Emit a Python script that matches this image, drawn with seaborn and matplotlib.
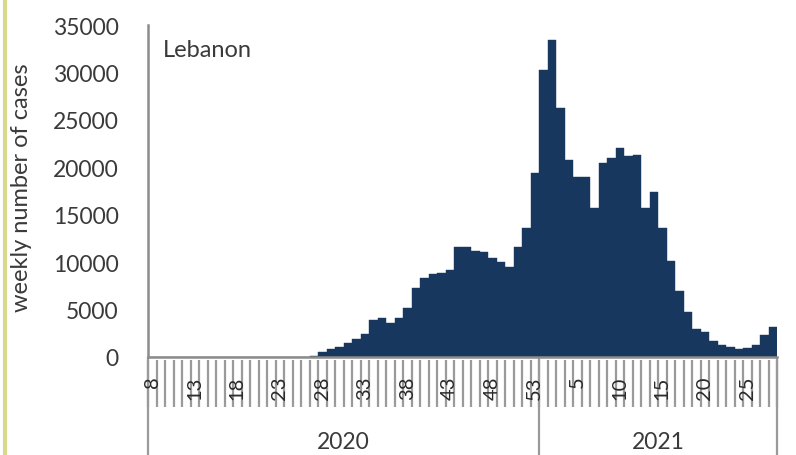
import seaborn as sns
import pandas as pd
import matplotlib.pyplot as plt
from matplotlib.lines import Line2D

# weekly cases, Lebanon
weeks_2020 = list(range(8, 54))
cases_2020 = [0, 5, 20, 30, 30, 25, 20, 15, 10, 5, 10, 15, 20, 25, 25, 30, 40, 50, 50, 60,
              490, 840, 1100, 1500, 1900, 2450, 3950, 4080, 3600, 4100, 5150, 7300, 8350, 8700,
              8900, 9200, 11600, 11600, 11200, 11100, 10400, 10050, 9500, 11600, 13650, 19350]
weeks_2021 = list(range(1, 29))
cases_2021 = [30260, 33420, 26250, 20770, 18940, 18940, 15680, 20420, 20940, 22000, 21220, 21300,
              15700, 17360, 13600, 10150, 6950, 4710, 2900, 2600, 1720, 1230, 1020, 840, 950, 1250,
              2280, 3150]
years = ['2020', '2021']
country = 'Lebanon'

df = pd.DataFrame({
    'year': ['2020'] * len(weeks_2020) + ['2021'] * len(weeks_2021),
    'week': weeks_2020 + weeks_2021,
    'cases': cases_2020 + cases_2021,
})
df['key'] = df['year'] + '-' + df['week'].astype(str)

navy = '#17375e'
grey_txt = '#3a3a3a'
grey_line = '#8c8c8c'

sns.set_style('white')
plt.rcParams['font.family'] = ['Lato', 'DejaVu Sans']

W, H = 796, 456
x0, x1, y0, y1 = 148, 777, 26, 358
fig = plt.figure(figsize=(W / 100, H / 100), dpi=100)
ax = fig.add_axes([x0 / W, 1 - y1 / H, (x1 - x0) / W, (y1 - y0) / H])

sns.barplot(data=df, x='key', y='cases', color=navy, saturation=1, width=1,
            errorbar=None, edgecolor=navy, linewidth=0.3, ax=ax)

n = len(df)
ax.set_xlim(-0.5, n - 0.5)
ax.set_ylim(0, 35000)
ax.set_yticks(range(0, 35001, 5000))
ax.tick_params(axis='y', direction='out', length=7, width=1.2, color=grey_line,
               labelsize=16.5, labelcolor=grey_txt, pad=14)

# every fifth week labelled, read bottom to top
ticks = list(range(0, n, 5))
ax.set_xticks(ticks)
ax.set_xticklabels([str(df['week'][i]) for i in ticks], rotation=90)
ax.tick_params(axis='x', length=0, labelsize=14.5, labelcolor='#2a2a2a', pad=13.5)
ax.set_xlabel('')
ax.set_ylabel('')

for s in ['top', 'right']:
    ax.spines[s].set_visible(False)
for s in ['left', 'bottom']:
    ax.spines[s].set_color(grey_line)
    ax.spines[s].set_linewidth(1.8)

# category separators under the axis
trans = ax.get_xaxis_transform()
h = y1 - y0
ax.vlines([i - 0.5 for i in range(n + 1)], -3 / h, -50 / h, transform=trans,
          color='#9a9a9a', lw=1.6, clip_on=False, zorder=0)
n20 = len(weeks_2020)
ax.vlines([-0.5, n20 - 0.5, n - 0.5], 0, -100 / h, transform=trans,
          color='#9a9a9a', lw=1.6, clip_on=False, zorder=0)
ax.text((n20 - 1) / 2, -85 / h, years[0], transform=trans, ha='center', va='center',
        fontsize=16.5, color=grey_txt)
ax.text(n20 + (n - n20 - 1) / 2, -85 / h, years[1], transform=trans, ha='center',
        va='center', fontsize=16.5, color=grey_txt)

ax.text(15 / (x1 - x0), (y1 - 57) / h, country, transform=ax.transAxes,
        ha='left', va='baseline', fontsize=17, color=grey_txt)

fig.text(22 / W, 1 - 188 / H, 'weekly number of cases', rotation=90, ha='center',
         va='center', fontsize=17, color=grey_txt)

# thin yellowish border at the left edge of the original picture
fig.add_artist(Line2D([5 / W, 5 / W], [0, 1], transform=fig.transFigure,
                      color='#d9d98c', lw=3))

fig.savefig('out.png', dpi=100)
